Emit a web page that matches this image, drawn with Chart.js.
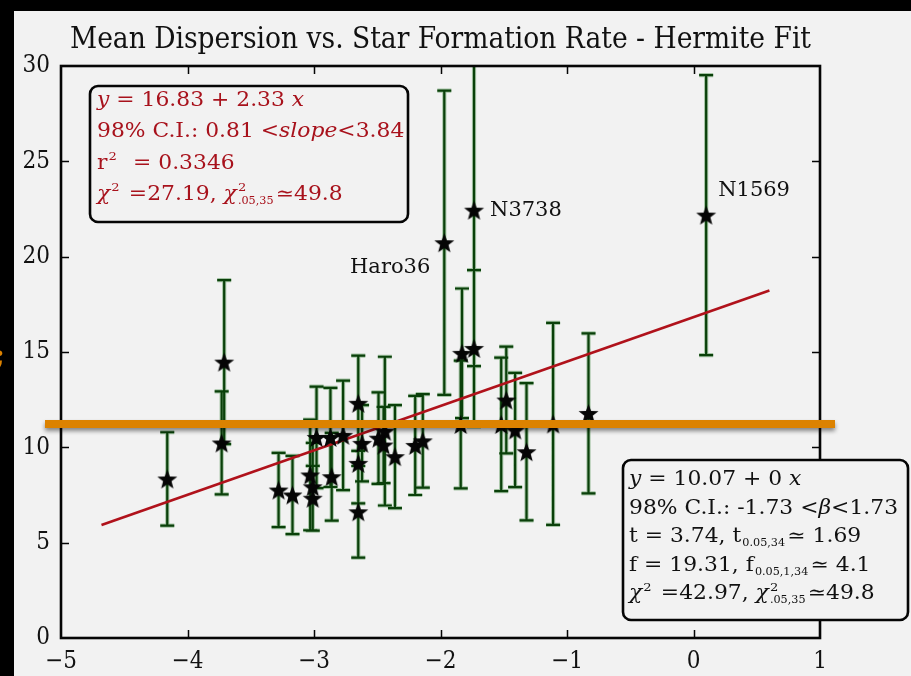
<!DOCTYPE html>
<html>
<head>
<meta charset="utf-8">
<script src="https://cdn.jsdelivr.net/npm/chart.js@4.4.1/dist/chart.umd.min.js"></script>
<style>
  html, body { margin: 0; padding: 0; background: #000; overflow: hidden; }
  canvas { display: block; }
</style>
</head>
<body>
<canvas id="c" width="911" height="676"></canvas>
<script>
// log star formation rate (x), mean velocity dispersion (y) and its 1-sigma error
const logSFR = [
  -4.16, -3.71, -3.73, -3.28, -3.17, -3.03, -3.01, -3.01, -2.98, -2.87,
  -2.86, -2.77, -2.65, -2.62, -2.65, -2.65, -2.49, -2.44, -2.45, -2.36,
  -2.20, -2.14, -1.97, -1.83, -1.84, -1.735, -1.735, -1.48, -1.52, -1.41,
  -1.32, -1.11, -0.83, 0.10
];
const meanDispersion = [
  8.34, 14.47, 10.23, 7.76, 7.50, 8.55, 7.93, 7.33, 10.52, 10.52,
  8.46, 10.63, 12.31, 10.21, 9.16, 6.62, 10.48, 10.85, 10.12, 9.51,
  10.10, 10.34, 20.73, 14.93, 11.20, 22.44, 15.19, 12.48, 11.20, 10.91,
  9.77, 11.23, 11.78, 22.18
];
const dispersionError = [
  2.45, 4.30, 2.70, 1.95, 2.05, 2.90, 2.30, 1.70, 2.66, 2.60,
  2.30, 2.87, 2.50, 2.00, 2.10, 2.40, 2.40, 3.90, 2.00, 2.70,
  2.60, 2.45, 7.98, 3.40, 3.35, 8.18, 4.10, 2.80, 3.50, 3.00,
  3.60, 5.30, 4.20, 7.34
];

// labelled galaxies: index into the arrays above, name, label offset in px
const labelIndex = [22, 25, 33];
const labelNames = ['Haro36', 'N3738', 'N1569'];
const labelOffsetX = [-14, 16, 12];
const labelOffsetY = [25, 0, -25];
const labelAlign = ['right', 'left', 'left'];

const xTickValues = [-5, -4, -3, -2, -1, 0, 1];
const yTickValues = [0, 5, 10, 15, 20, 25, 30];

// weighted Hermite fit
const fitIntercept = 16.83;
const fitSlope = 2.33;
const fitXRange = [-4.68, 0.6];

// horizontal marker level
const markerLevel = 11.22;

// statistics boxes (segments: t = text, i = italic, sup/sub = scripts)
const fitStatLines = [
  [{t: 'y', i: 1}, {t: ' = 16.83 + 2.33 '}, {t: 'x', i: 1}],
  [{t: '98% C.I.: 0.81 '}, {t: '<'}, {t: 'slope', i: 1}, {t: '<'}, {t: '3.84'}],
  [{t: 'r'}, {sup: '2'}, {t: '  = 0.3346'}],
  [{t: '\u03c7', i: 1}, {sup: '2'}, {t: ' =27.19, '}, {t: '\u03c7', i: 1}, {sup: '2', sub: '.05,35'}, {t: '\u224349.8'}]
];
const nullStatLines = [
  [{t: 'y', i: 1}, {t: ' = 10.07 + 0 '}, {t: 'x', i: 1}],
  [{t: '98% C.I.: -1.73 '}, {t: '<'}, {t: '\u03b2', i: 1}, {t: '<'}, {t: '1.73'}],
  [{t: 't = 3.74, t'}, {sub: '0.05,34'}, {t: '\u2243 1.69'}],
  [{t: 'f = 19.31, f'}, {sub: '0.05,1,34'}, {t: '\u2243 4.1'}],
  [{t: '\u03c7', i: 1}, {sup: '2'}, {t: ' =42.97, '}, {t: '\u03c7', i: 1}, {sup: '2', sub: '.05,35'}, {t: '\u224349.8'}]
];

const points = logSFR.map((x, k) => ({x: x, y: meanDispersion[k]}));
const fitLine = fitXRange.map(x => ({x: x, y: fitIntercept + fitSlope * x}));

// filled five-pointed star used as the point marker
function makeStar(R, r) {
  const c = document.createElement('canvas');
  const s = Math.ceil(R * 2 + 2);
  c.width = s; c.height = s;
  const g = c.getContext('2d');
  g.translate(s / 2, s / 2 + 1);
  g.beginPath();
  for (let k = 0; k < 10; k++) {
    const rad = k % 2 === 0 ? R : r;
    const a = -Math.PI / 2 + k * Math.PI / 5;
    const px = rad * Math.cos(a), py = rad * Math.sin(a);
    if (k === 0) g.moveTo(px, py); else g.lineTo(px, py);
  }
  g.closePath();
  g.fillStyle = '#050505';
  g.fill();
  return c;
}
const starMarker = makeStar(10.5, 4.4);

const SERIF = "'DejaVu Serif', 'Liberation Serif', serif";
const SERIF_C = "'DejaVu Serif Condensed', 'DejaVu Serif', serif";
const fmt = v => (v < 0 ? '\u2212' + Math.abs(v) : String(v));

function drawRich(ctx, x, y, segs, base, stretch, color) {
  ctx.save();
  ctx.translate(x, y);
  ctx.scale(stretch, 1);
  ctx.fillStyle = color;
  ctx.textBaseline = 'alphabetic';
  ctx.textAlign = 'left';
  let cx = 0;
  for (const s of segs) {
    if (s.sup !== undefined || s.sub !== undefined) {
      const small = base * 0.6;
      ctx.font = `${small}px ${SERIF}`;
      let w = 0;
      if (s.sup !== undefined) {
        ctx.fillText(s.sup, cx + 1, -base * 0.45);
        w = Math.max(w, ctx.measureText(s.sup).width);
      }
      if (s.sub !== undefined) {
        ctx.font = `${small * 0.95}px ${SERIF_C}`;
        ctx.fillText(s.sub, cx + 1, base * 0.2);
        w = Math.max(w, ctx.measureText(s.sub).width);
      }
      cx += w + 3;
    } else {
      ctx.font = `${s.i ? 'italic ' : ''}${base}px ${SERIF}`;
      ctx.fillText(s.t, cx, 0);
      cx += ctx.measureText(s.t).width;
    }
  }
  ctx.restore();
}

function roundBox(ctx, x0, y0, x1, y1, r) {
  ctx.save();
  ctx.beginPath();
  ctx.roundRect(x0, y0, x1 - x0, y1 - y0, r);
  ctx.fillStyle = '#f2f2f2';
  ctx.fill();
  ctx.lineWidth = 2.6;
  ctx.strokeStyle = '#050505';
  ctx.stroke();
  ctx.restore();
}

const backdrop = {
  id: 'backdrop',
  beforeDraw(chart) {
    const ctx = chart.ctx;
    ctx.save();
    ctx.fillStyle = '#000';
    ctx.fillRect(0, 0, chart.width, chart.height);
    ctx.fillStyle = '#f2f2f2';
    ctx.fillRect(14, 11, chart.width - 14, chart.height - 11);
    ctx.restore();
  }
};

const errorBars = {
  id: 'errorBars',
  beforeDatasetsDraw(chart) {
    const ctx = chart.ctx, xs = chart.scales.x, ys = chart.scales.y, a = chart.chartArea;
    ctx.save();
    ctx.beginPath();
    ctx.rect(a.left, a.top, a.right - a.left, a.bottom - a.top);
    ctx.clip();
    const pass = (w, color) => {
      ctx.lineWidth = w;
      ctx.strokeStyle = color;
      ctx.beginPath();
      logSFR.forEach((x, k) => {
        const px = xs.getPixelForValue(x);
        const yt = ys.getPixelForValue(meanDispersion[k] + dispersionError[k]);
        const yb = ys.getPixelForValue(meanDispersion[k] - dispersionError[k]);
        ctx.moveTo(px, yt); ctx.lineTo(px, yb);
        ctx.moveTo(px - 7, yt); ctx.lineTo(px + 7, yt);
        ctx.moveTo(px - 7, yb); ctx.lineTo(px + 7, yb);
      });
      ctx.stroke();
    };
    pass(4.2, 'rgba(70,140,70,0.45)');
    pass(2.2, '#0a400a');
    ctx.restore();
  }
};

const overlay = {
  id: 'overlay',
  afterDraw(chart) {
    const ctx = chart.ctx, xs = chart.scales.x, ys = chart.scales.y, a = chart.chartArea;

    // axes frame and inward ticks
    ctx.save();
    ctx.strokeStyle = '#050505';
    ctx.lineWidth = 1.5;
    ctx.beginPath();
    xTickValues.slice(1, -1).forEach(v => {
      const px = Math.round(xs.getPixelForValue(v)) + 0.5;
      ctx.moveTo(px, a.bottom); ctx.lineTo(px, a.bottom - 8);
      ctx.moveTo(px, a.top); ctx.lineTo(px, a.top + 8);
    });
    yTickValues.slice(1, -1).forEach(v => {
      const py = Math.round(ys.getPixelForValue(v)) + 0.5;
      ctx.moveTo(a.left, py); ctx.lineTo(a.left + 8, py);
      ctx.moveTo(a.right, py); ctx.lineTo(a.right - 8, py);
    });
    ctx.stroke();
    ctx.lineWidth = 2.6;
    ctx.strokeRect(a.left, a.top, a.right - a.left, a.bottom - a.top);
    ctx.restore();

    // galaxy name labels
    ctx.save();
    ctx.font = `21px ${SERIF}`;
    ctx.fillStyle = '#111';
    ctx.textBaseline = 'middle';
    labelIndex.forEach((k, j) => {
      const px = xs.getPixelForValue(logSFR[k]);
      const py = ys.getPixelForValue(meanDispersion[k]);
      ctx.textAlign = labelAlign[j];
      ctx.fillText(labelNames[j], px + labelOffsetX[j], py + labelOffsetY[j]);
    });
    ctx.restore();

    // statistics boxes
    roundBox(ctx, a.left + 29, a.top + 20, a.left + 347, a.top + 156, 8);
    fitStatLines.forEach((ln, k) => drawRich(ctx, a.left + 36, a.top + 40 + k * 31.3, ln, 19.5, 1.12, '#a8121c'));
    roundBox(ctx, a.right - 197, a.bottom - 178, a.right + 88, a.bottom - 18, 8);
    nullStatLines.forEach((ln, k) => drawRich(ctx, a.right - 191, a.bottom - 153 + k * 28.6, ln, 19.5, 1.12, '#111'));

    // horizontal marker line
    const my = ys.getPixelForValue(markerLevel);
    ctx.save();
    ctx.shadowColor = 'rgba(0,0,0,0.45)';
    ctx.shadowBlur = 4;
    ctx.shadowOffsetY = 3;
    ctx.strokeStyle = '#dc8200';
    ctx.lineWidth = 8;
    ctx.beginPath();
    ctx.moveTo(a.left - 16, my);
    ctx.lineTo(a.right + 15, my);
    ctx.stroke();
    ctx.restore();

    ctx.save();
    ctx.fillStyle = '#dc8200';
    ctx.font = `bold 30px ${SERIF}`;
    ctx.textAlign = 'right';
    ctx.textBaseline = 'middle';
    ctx.fillText(';', 5, 357);
    ctx.restore();
  }
};

new Chart(document.getElementById('c'), {
  type: 'scatter',
  data: {
    datasets: [
      {
        type: 'scatter',
        data: points,
        pointStyle: starMarker,
        pointRadius: 9,
        pointHoverRadius: 9,
        order: 0
      },
      {
        type: 'line',
        data: fitLine,
        borderColor: '#b0121b',
        borderWidth: 2.6,
        pointRadius: 0,
        fill: false,
        order: 1
      }
    ]
  },
  options: {
    responsive: false,
    animation: false,
    events: [],
    layout: { padding: { left: 0, top: 11, right: 91, bottom: 0 } },
    plugins: {
      legend: { display: false },
      tooltip: { enabled: false },
      title: {
        display: true,
        fullSize: false,
        text: 'Mean Dispersion vs. Star Formation Rate - Hermite Fit',
        color: '#111',
        font: { family: SERIF_C, size: 29.5, weight: 'normal', lineHeight: 1 },
        padding: { top: 15, bottom: 10.5 }
      }
    },
    scales: {
      x: {
        type: 'linear',
        min: -5, max: 1,
        afterBuildTicks: s => { s.ticks = xTickValues.map(v => ({value: v})); },
        ticks: {
          callback: v => fmt(v),
          color: '#111',
          font: { family: SERIF_C, size: 24 },
          padding: 9,
          maxRotation: 0,
          autoSkip: false
        },
        grid: { display: false, drawTicks: false },
        border: { display: false },
        afterFit: s => { s.height = 38; }
      },
      y: {
        type: 'linear',
        min: 0, max: 30,
        afterBuildTicks: s => { s.ticks = yTickValues.map(v => ({value: v})); },
        ticks: {
          callback: v => fmt(v),
          color: '#111',
          font: { family: SERIF_C, size: 24 },
          padding: 11,
          autoSkip: false
        },
        grid: { display: false, drawTicks: false },
        border: { display: false },
        afterFit: s => { s.width = 61; }
      }
    }
  },
  plugins: [backdrop, errorBars, overlay]
});
</script>
</body>
</html>
